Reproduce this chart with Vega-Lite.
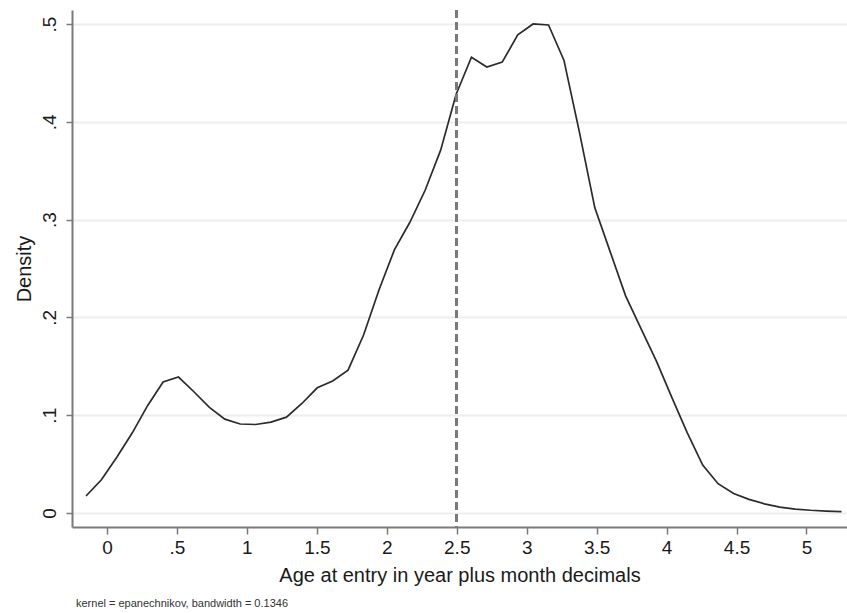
{
  "$schema": "https://vega.github.io/schema/vega-lite/v6.json",
  "width": 775,
  "height": 517,
  "autosize": {"type": "none"},
  "padding": {"left": 72, "top": 10, "right": 0, "bottom": 86},
  "background": "white",
  "config": {
    "view": {"stroke": null},
    "font": "Liberation Sans",
    "axis": {
      "labelFont": "Liberation Sans",
      "titleFont": "Liberation Sans",
      "labelColor": "#1a1a1a",
      "titleColor": "#1a1a1a",
      "titleFontWeight": "normal",
      "domainColor": "#7a7a7a",
      "domainWidth": 2,
      "tickColor": "#7a7a7a",
      "tickWidth": 1.5
    }
  },
  "title": {
    "text": "kernel = epanechnikov, bandwidth = 0.1346",
    "orient": "bottom",
    "anchor": "start",
    "frame": "group",
    "fontSize": 11,
    "fontWeight": "normal",
    "font": "Liberation Sans",
    "color": "#333333",
    "offset": 13,
    "dx": 4
  },
  "data": {
    "values": [
      {"age": -0.150, "density": 0.0174},
      {"age": -0.040, "density": 0.034},
      {"age": 0.070, "density": 0.057},
      {"age": 0.181, "density": 0.082},
      {"age": 0.291, "density": 0.110},
      {"age": 0.401, "density": 0.134},
      {"age": 0.511, "density": 0.139},
      {"age": 0.621, "density": 0.124},
      {"age": 0.732, "density": 0.108},
      {"age": 0.842, "density": 0.096},
      {"age": 0.952, "density": 0.091},
      {"age": 1.062, "density": 0.0905},
      {"age": 1.172, "density": 0.093},
      {"age": 1.283, "density": 0.098},
      {"age": 1.393, "density": 0.112},
      {"age": 1.503, "density": 0.128},
      {"age": 1.613, "density": 0.135},
      {"age": 1.723, "density": 0.146},
      {"age": 1.834, "density": 0.182},
      {"age": 1.944, "density": 0.228},
      {"age": 2.054, "density": 0.269},
      {"age": 2.164, "density": 0.297},
      {"age": 2.274, "density": 0.330},
      {"age": 2.385, "density": 0.371},
      {"age": 2.495, "density": 0.428},
      {"age": 2.605, "density": 0.466},
      {"age": 2.715, "density": 0.456},
      {"age": 2.825, "density": 0.461},
      {"age": 2.936, "density": 0.489},
      {"age": 3.046, "density": 0.500},
      {"age": 3.156, "density": 0.499},
      {"age": 3.266, "density": 0.463},
      {"age": 3.376, "density": 0.390},
      {"age": 3.487, "density": 0.312},
      {"age": 3.597, "density": 0.267},
      {"age": 3.707, "density": 0.222},
      {"age": 3.817, "density": 0.1885},
      {"age": 3.928, "density": 0.155},
      {"age": 4.038, "density": 0.118},
      {"age": 4.148, "density": 0.082},
      {"age": 4.258, "density": 0.049},
      {"age": 4.368, "density": 0.030},
      {"age": 4.479, "density": 0.020},
      {"age": 4.589, "density": 0.014},
      {"age": 4.699, "density": 0.0094},
      {"age": 4.809, "density": 0.006},
      {"age": 4.919, "density": 0.004},
      {"age": 5.030, "density": 0.0028},
      {"age": 5.140, "density": 0.002},
      {"age": 5.250, "density": 0.0015}
    ]
  },
  "layer": [
    {
      "mark": {"type": "line", "color": "#2b2b2b", "strokeWidth": 1.7, "clip": true},
      "encoding": {
        "x": {
          "field": "age",
          "type": "quantitative",
          "scale": {"domain": [-0.2502, 5.2895], "nice": false, "zero": false},
          "axis": {
            "title": "Age at entry in year plus month decimals",
            "values": [0, 0.5, 1, 1.5, 2, 2.5, 3, 3.5, 4, 4.5, 5],
            "labelExpr": "datum.value > 0 && datum.value < 1 ? substring(format(datum.value, '.1f'), 1) : format(datum.value, '~g')",
            "labelFontSize": 19,
            "titleFontSize": 20,
            "tickSize": 7,
            "labelPadding": 4,
            "titlePadding": 8,
            "grid": false,
            "labelFlush": false
          }
        },
        "y": {
          "field": "density",
          "type": "quantitative",
          "scale": {"domain": [-0.0143, 0.5143], "nice": false, "zero": false},
          "axis": {
            "title": "Density",
            "values": [0, 0.1, 0.2, 0.3, 0.4, 0.5],
            "labelExpr": "datum.value > 0 && datum.value < 1 ? substring(format(datum.value, '.1f'), 1) : format(datum.value, '~g')",
            "labelAngle": -90,
            "labelAlign": "center",
            "labelBaseline": "bottom",
            "labelFontSize": 19,
            "titleFontSize": 20,
            "tickSize": 6,
            "labelPadding": 7,
            "titlePadding": 6,
            "grid": true,
            "gridColor": "#ededed",
            "gridWidth": 2,
            "labelFlush": false
          }
        }
      }
    },
    {
      "mark": {"type": "rule", "color": "#7a7a7a", "strokeWidth": 2.2, "strokeDash": [8, 4]},
      "encoding": {
        "x": {"datum": 2.5, "type": "quantitative"}
      }
    }
  ]
}
